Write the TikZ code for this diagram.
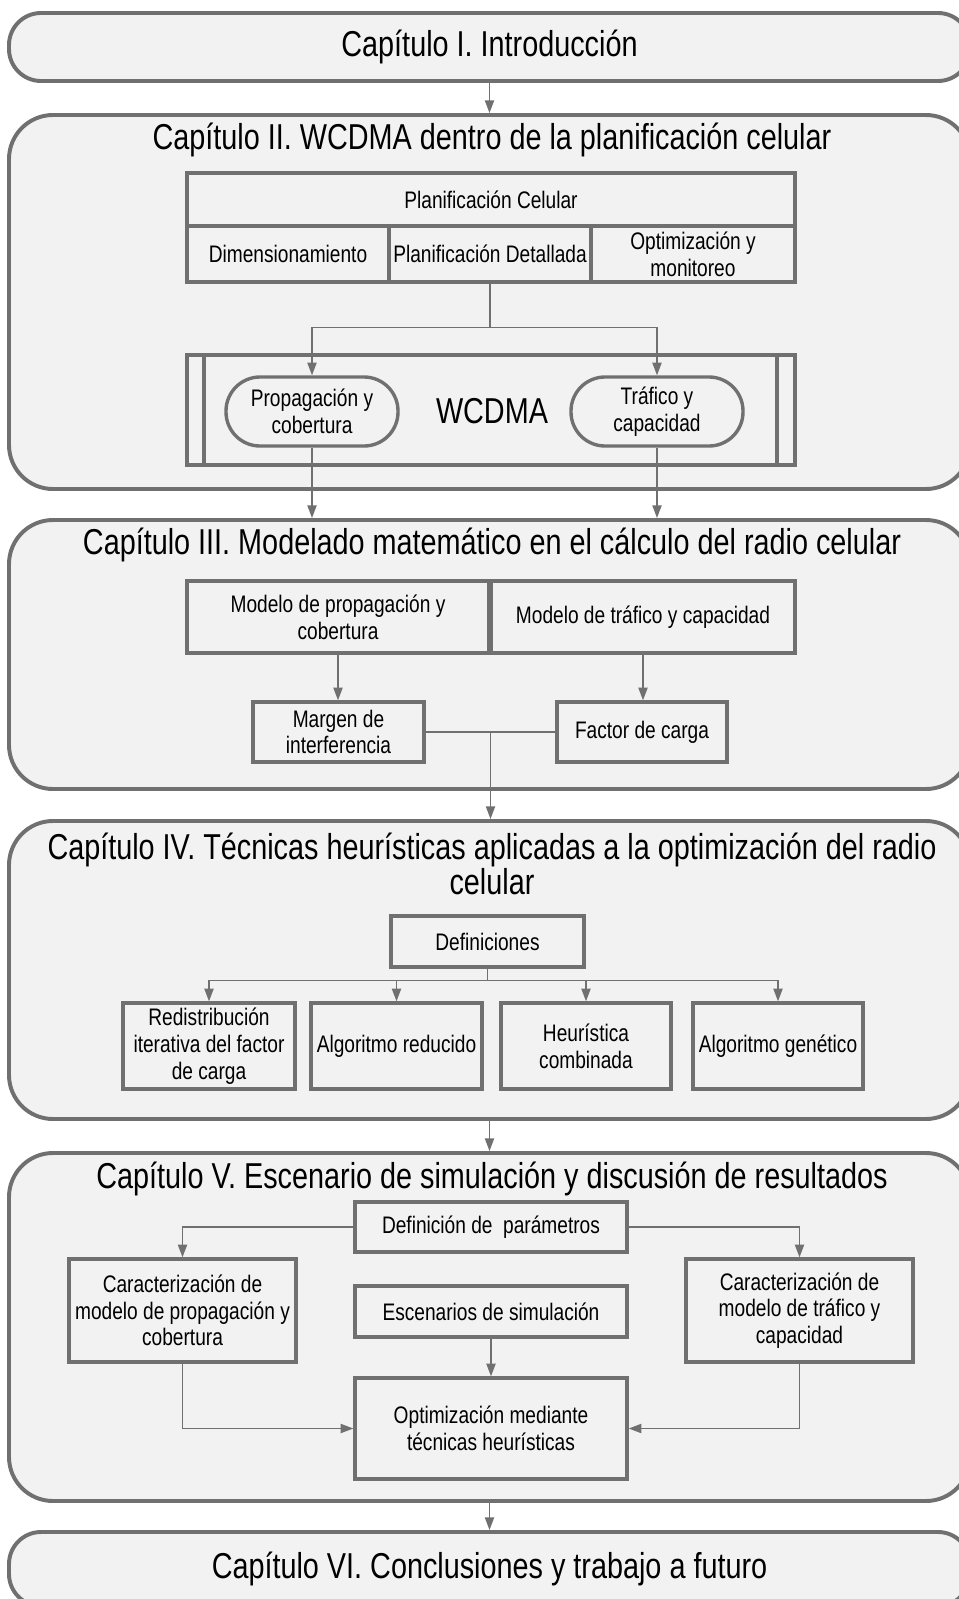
\documentclass[tikz,border=0pt]{standalone}
\usepackage{fontspec}
\setmainfont{Liberation Sans}[FakeStretch=0.8]
\usetikzlibrary{arrows.meta, positioning, fit, calc, shadows}
\definecolor{LineGray}{RGB}{112,112,112}
\definecolor{BoxFill}{RGB}{242,242,242}
\newcommand{\titulofont}{\fontsize{25.6}{25}\selectfont}
\newcommand{\cajafont}{\fontsize{17}{19}\selectfont}
\tikzset{
	sombra/.style={drop shadow={shadow xshift=1pt, shadow yshift=-1pt, opacity=0.15}},
	capitulo/.style={draw=LineGray, fill=BoxFill, line width=2.8pt, rounded corners=1.1cm,
		inner sep=0pt, sombra},
	capextremo/.style={capitulo, rounded corners=0.8cm, label={[titulo]center:{#1}}},
	titulo/.style={font=\titulofont, align=center, inner sep=0pt},
	txt/.style={font=\cajafont, align=center, inner sep=0pt},
	cajabase/.style={draw=LineGray, fill=BoxFill, line width=2.4pt, inner sep=0pt, sombra},
	caja/.style={cajabase, label={[txt]center:{#1}}},
	pildora/.style={caja={#1}, rounded corners=0.85cm},
	linea/.style={draw=LineGray, line width=1.1pt},
	flecha/.style={linea, -{Triangle[length=9pt,width=6.5pt]}},
}

\begin{document}
\begin{tikzpicture}[x=0.025cm, y=-0.025cm]
\useasboundingbox (0,0) rectangle (959,1599);

% Capitulo I
\node[capextremo={Capítulo I. Introducción}, fit={(9,13) (970,81)}] (cap1) {};

% Capitulo II
\node[capitulo, fit={(9,115) (970,489)}] (cap2) {};
\node[titulo] (tit2) at (492,140) {Capítulo II. WCDMA dentro de la planificación celular};
\node[caja={Planificación Celular}, fit={(187,173) (795,226)}] (pcel) {};
\node[caja={Dimensionamiento}, fit={(187,226) (389,282)}] (dim) {};
\node[caja={Planificación Detallada}, fit={(389,226) (591,282)}] (pdet) {};
\node[caja={Optimización y\\monitoreo}, fit={(591,226) (795,282)}] (optmon) {};
\node[cajabase, fit={(187,355) (795,465)}] (wcdma) {};
\draw[LineGray, line width=2.4pt] (204,355) -- (204,465) (777,355) -- (777,465);
\node[titulo] (wtxt) at (492,411) {WCDMA};
\node[pildora={Propagación y\\cobertura}, fit={(226,377) (398,446)}] (prop) {};
\node[pildora={Tráfico y\\capacidad}, fit={(571,377) (743,446)}] (traf) {};

% Capitulo III
\node[capitulo, fit={(9,520) (970,789)}] (cap3) {};
\node[titulo] (tit3) at (492,545) {Capítulo III. Modelado matemático en el cálculo del radio celular};
\node[caja={Modelo de propagación y\\cobertura}, fit={(187,581) (489,653)}] (mprop) {};
\node[caja={Modelo de tráfico y capacidad}, fit={(491,581) (795,653)}] (mtraf) {};
\node[caja={Margen de\\interferencia}, fit={(253,702) (424,762)}] (margen) {};
\node[caja={Factor de carga}, fit={(557,702) (727,762)}] (fcarga) {};

% Capitulo IV
\node[capitulo, fit={(9,821) (970,1119)}] (cap4) {};
\node[titulo] (tit4) at (492,864) {Capítulo IV. Técnicas heurísticas aplicadas a la optimización del radio\\celular};
\node[caja={Definiciones}, fit={(391,916) (584,967)}] (defs) {};
\node[caja={Redistribución\\iterativa del factor\\de carga}, fit={(123,1003) (295,1089)}] (redis) {};
\node[caja={Algoritmo reducido}, fit={(311,1003) (482,1089)}] (areduc) {};
\node[caja={Heurística\\combinada}, fit={(501,1003) (671,1089)}] (hcomb) {};
\node[caja={Algoritmo genético}, fit={(693,1003) (863,1089)}] (agen) {};

% Capitulo V
\node[capitulo, fit={(9,1153) (970,1501)}] (cap5) {};
\node[titulo] (tit5) at (492,1179) {Capítulo V. Escenario de simulación y discusión de resultados};
\node[caja={Definición de\ \ parámetros}, fit={(355,1202) (627,1252)}] (dparam) {};
\node[caja={Caracterización de\\modelo de propagación y\\cobertura}, fit={(69,1259) (296,1362)}] (carprop) {};
\node[caja={Caracterización de\\modelo de tráfico y\\capacidad}, fit={(686,1259) (913,1362)}] (cartraf) {};
\node[caja={Escenarios de simulación}, fit={(355,1286) (627,1337)}] (escen) {};
\node[caja={Optimización mediante\\técnicas heurísticas}, fit={(355,1378) (627,1479)}] (optheu) {};

% Capitulo VI
\node[capextremo={Capítulo VI. Conclusiones y trabajo a futuro}, fit={(9,1532) (970,1606)}] (cap6) {};

% conectores
\draw[flecha] (cap1.south) -- (cap2.north);
\draw[linea] (pdet.south) -- ++(0,44) coordinate (j1);
\draw[flecha] (j1) -| (prop.north);
\draw[flecha] (j1) -| (traf.north);
\draw[flecha] (prop.south) -- (prop.south |- cap3.north);
\draw[flecha] (traf.south) -- (traf.south |- cap3.north);
\draw[flecha] (mprop.south) -- (mprop.south |- margen.north);
\draw[flecha] (mtraf.south) -- (mtraf.south |- fcarga.north);
\draw[linea] (margen.east) -- (fcarga.west);
\coordinate (j3) at ($(margen.east)!0.5!(fcarga.west)$);
\draw[flecha] (j3) -- (j3 |- cap4.north);
\draw[linea] (defs.south) -- ++(0,12) coordinate (j4);
\foreach \n in {redis,areduc,hcomb,agen}
	\draw[flecha] (j4) -| (\n.north);
\draw[flecha] (cap4.south) -- (cap5.north);
\draw[flecha] (dparam.west) -| (carprop.north);
\draw[flecha] (dparam.east) -| (cartraf.north);
\draw[flecha] (escen.south) -- (optheu.north);
\draw[flecha] (carprop.south) |- (optheu.west);
\draw[flecha] (cartraf.south) |- (optheu.east);
\draw[flecha] (cap5.south) -- (cap6.north);
\end{tikzpicture}
\end{document}
